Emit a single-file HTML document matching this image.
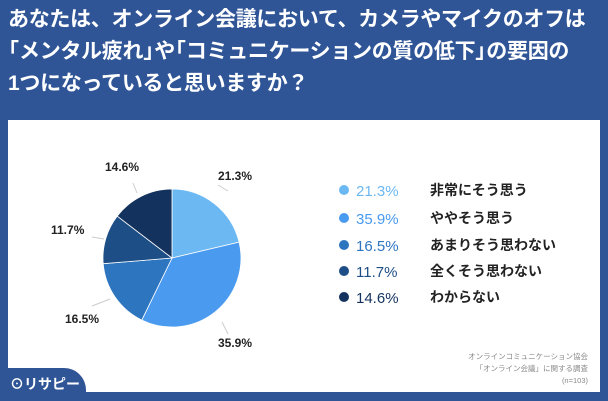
<!DOCTYPE html>
<html><head><meta charset="utf-8"><style>
body{margin:0;width:608px;height:401px;overflow:hidden;background:#2f5597;font-family:"Liberation Sans","Noto Sans CJK JP",sans-serif;position:relative}
.t{position:absolute;left:8px;top:4px;color:#fff;font-weight:bold;font-size:21px;line-height:32px;letter-spacing:-0.3px;white-space:nowrap}
.o,.c{display:inline-block;width:11px;height:32px;overflow:hidden;vertical-align:top;white-space:nowrap}
.o span{margin-left:-10px}
.p{position:absolute;left:8px;top:120px;width:592px;height:272px;background:#fff}
.tab{position:absolute;left:0;top:368px;width:86px;height:33px;background:#2f5597;border-top-right-radius:22px}
.logo{position:absolute;left:10px;top:374px;color:#fff;font-size:14px;font-weight:bold}
.src{position:absolute;right:20px;top:351px;text-align:right;color:#888;font-size:7.5px;line-height:12px}
</style></head><body>
<div class="t">あなたは、オンライン会議において、カメラやマイクのオフは<br><span class="o"><span>「</span></span>メンタル疲れ<span class="c">」</span>や<span class="o"><span>「</span></span>コミュニケーションの質の低下<span class="c">」</span>の要因の<br>1つになっていると思いますか？</div>
<div class="p"></div>
<div class="tab"></div>
<div class="logo">⊙リサピー</div>
<div class="src">オンラインコミュニケーション協会<br>「オンライン会議」に関する調査<br>(n=103)</div>
<svg width="608" height="401" style="position:absolute;left:0;top:0" font-family="Liberation Sans, Noto Sans CJK JP, sans-serif">
<g stroke="#fff" stroke-width="0.8">
<path d="M172,258 L172,189 A69,69 0 0 1 239.1,242.1Z" fill="#6cb8f3"/>
<path d="M172,258 L239.1,242.1 A69,69 0 0 1 141.8,320.1Z" fill="#4a9af0"/>
<path d="M172,258 L141.8,320.1 A69,69 0 0 1 103.2,263.7Z" fill="#2e75c0"/>
<path d="M172,258 L103.2,263.7 A69,69 0 0 1 117.2,216.1Z" fill="#1d4f86"/>
<path d="M172,258 L117.2,216.1 A69,69 0 0 1 172,189Z" fill="#14325e"/>
</g>
<g stroke="#ccc" stroke-width="1" fill="none">
<path d="M218,185 L228,191"/><path d="M222,322 L228,334"/><path d="M92,306 L110,299"/><path d="M92,237 L104,239"/><path d="M133,183 L137,193"/>
</g>
<g font-size="12" font-weight="bold" fill="#222">
<text x="218" y="180">21.3%</text>
<text x="218" y="347">35.9%</text>
<text x="65" y="323">16.5%</text>
<text x="51" y="234">11.7%</text>
<text x="105" y="171">14.6%</text>
</g>
<g font-size="15">
<circle cx="344" cy="190" r="5" fill="#6cb8f3"/><text x="356" y="196" fill="#6cb8f3">21.3%</text>
<circle cx="344" cy="218" r="5" fill="#4a9af0"/><text x="356" y="224" fill="#4a9af0">35.9%</text>
<circle cx="344" cy="245" r="5" fill="#2e75c0"/><text x="356" y="251" fill="#2e75c0">16.5%</text>
<circle cx="344" cy="271" r="5" fill="#1d4f86"/><text x="356" y="277" fill="#1d4f86">11.7%</text>
<circle cx="344" cy="297" r="5" fill="#14325e"/><text x="356" y="303" fill="#14325e">14.6%</text>
</g>
<g font-size="14" font-weight="bold" fill="#222">
<text x="430" y="195">非常にそう思う</text>
<text x="430" y="223">ややそう思う</text>
<text x="430" y="250">あまりそう思わない</text>
<text x="430" y="276">全くそう思わない</text>
<text x="430" y="302">わからない</text>
</g>
</svg>
</body></html>
